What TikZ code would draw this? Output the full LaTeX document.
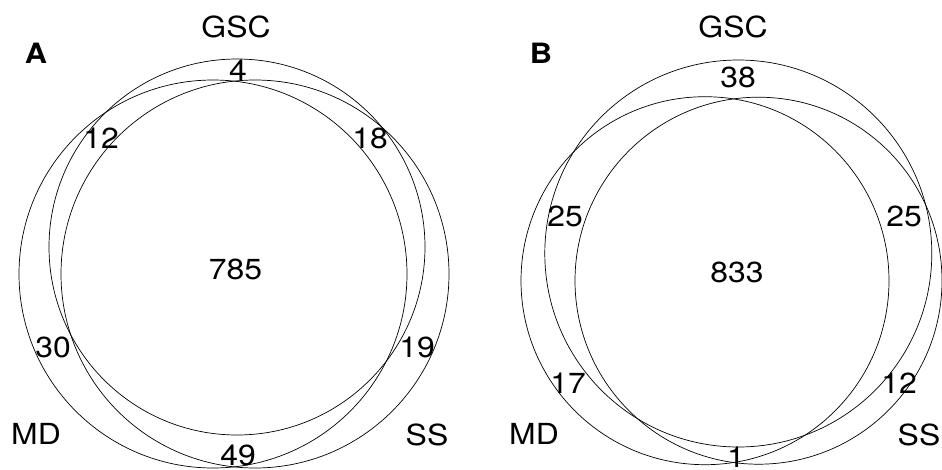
\documentclass[tikz,border=0pt]{standalone}
\usepackage{fontspec}
\setmainfont[FakeStretch=1.1]{TeX Gyre Heros}
\begin{document}
\begin{tikzpicture}[x=1pt,y=-1pt,
  set/.style={draw=black,line width=0.7pt},
  lbl/.style={inner sep=0pt,font=\fontsize{29}{34}\selectfont},
  panel/.style={inner sep=0pt,font=\fontsize{28}{34}\selectfont\bfseries}]
\useasboundingbox (0,0) rectangle (942,469);

% Panel A
\draw[set] (237,247) circle [radius=188];   % GSC
\draw[set] (213,274) circle [radius=194];   % MD
\draw[set] (255,274) circle [radius=194];   % SS
\node[panel] (pA) at (36,53) {A};
\node[lbl] (aGSC) at (236,27) {GSC};
\node[lbl] (aMD) at (36,434) {MD};
\node[lbl] (aSS) at (427,435) {SS};
\node[lbl] (a4) at (238,70) {4};
\node[lbl] (a12) at (101,138) {12};
\node[lbl] (a18) at (370,138) {18};
\node[lbl] (a785) at (235.5,269) {785};
\node[lbl] (a30) at (53,347) {30};
\node[lbl] (a19) at (417,347) {19};
\node[lbl] (a49) at (238,455) {49};

% Panel B
\draw[set] (738.3,253.5) circle [radius=193.5]; % GSC
\draw[set] (705,280.7) circle [radius=184];     % MD
\draw[set] (758.5,280.7) circle [radius=183.5]; % SS
\node[panel] (pB) at (541,53) {B};
\node[lbl] (bGSC) at (733,27) {GSC};
\node[lbl] (bMD) at (534,434) {MD};
\node[lbl] (bSS) at (919,435) {SS};
\node[lbl] (b38) at (738,77) {38};
\node[lbl] (b25l) at (565,216) {25};
\node[lbl] (b25r) at (904,216) {25};
\node[lbl] (b833) at (737,272) {833};
\node[lbl] (b17) at (568,383) {17};
\node[lbl] (b12) at (899,383) {12};
\node[lbl] (b1) at (736,457) {1};
\end{tikzpicture}
\end{document}
